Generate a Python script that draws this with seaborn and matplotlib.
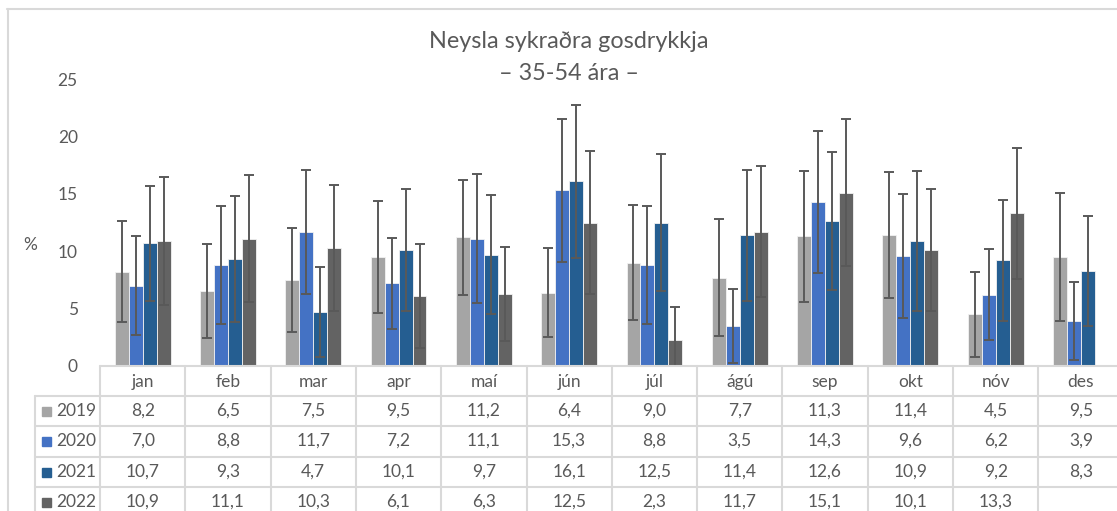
import numpy as np
import pandas as pd
import matplotlib
matplotlib.use("Agg")
import matplotlib.pyplot as plt
import seaborn as sns
from matplotlib.lines import Line2D
from matplotlib.patches import Rectangle
from matplotlib.container import BarContainer

months = ["jan", "feb", "mar", "apr", "maí", "jún", "júl", "ágú", "sep", "okt", "nóv", "des"]
years = ["2019", "2020", "2021", "2022"]
v2019 = [8.2, 6.5, 7.5, 9.5, 11.2, 6.4, 9.0, 7.7, 11.3, 11.4, 4.5, 9.5]
v2020 = [7.0, 8.8, 11.7, 7.2, 11.1, 15.3, 8.8, 3.5, 14.3, 9.6, 6.2, 3.9]
v2021 = [10.7, 9.3, 4.7, 10.1, 9.7, 16.1, 12.5, 11.4, 12.6, 10.9, 9.2, 8.3]
v2022 = [10.9, 11.1, 10.3, 6.1, 6.3, 12.5, 2.3, 11.7, 15.1, 10.1, 13.3, None]
e2019 = [4.4, 4.1, 4.5, 4.9, 5.0, 3.9, 5.0, 5.1, 5.7, 5.5, 3.7, 5.55]
e2020 = [4.3, 5.1, 5.4, 3.95, 5.6, 6.2, 5.1, 3.2, 6.2, 5.4, 3.95, 3.4]
e2021 = [5.0, 5.5, 3.9, 5.3, 5.2, 6.65, 5.95, 5.7, 6.0, 6.1, 5.25, 4.8]
e2022 = [5.6, 5.5, 5.5, 4.5, 4.1, 6.2, 2.8, 5.7, 6.4, 5.3, 5.7, None]
colors = ["#A5A5A5", "#4472C4", "#255E91", "#636363"]
yticks = [0, 5, 10, 15, 20, 25]
title1 = "Neysla sykraðra gosdrykkja"
title2 = "– 35-54 ára –"

values = [v2019, v2020, v2021, v2022]
errs = [e2019, e2020, e2021, e2022]

rows = []
for y, vals in zip(years, values):
    for m, v in zip(months, vals):
        if v is not None:
            rows.append({"month": m, "year": y, "value": v})
df = pd.DataFrame(rows)

sns.set_theme(style="white")
plt.rcParams["font.family"] = ["Lato", "DejaVu Sans"]
TXT = "#595959"
GRID = "#D9D9D9"

W, H = 1117, 511
fig = plt.figure(figsize=(W / 100, H / 100), dpi=100)
fig.patch.set_facecolor("white")

x0, x1 = 100, 1123.6
y0, ytop = 366, 79
ax = fig.add_axes([x0 / W, 1 - y0 / H, (x1 - x0) / W, (y0 - ytop) / H])

sns.barplot(data=df, x="month", y="value", hue="year", order=months, hue_order=years,
            palette=colors, width=0.655, errorbar=None, ax=ax, legend=False,
            edgecolor="#F2F2F2", linewidth=0.6, saturation=1)

bar_conts = [c for c in ax.containers if isinstance(c, BarContainer)]
for i, cont in enumerate(bar_conts):
    xs, hs, es = [], [], []
    for bar in cont:
        if bar is None:
            continue
        xc = bar.get_x() + bar.get_width() / 2
        c = int(round(xc))
        if values[i][c] is None:
            continue
        xs.append(xc)
        hs.append(values[i][c])
        es.append(errs[i][c])
    ax.errorbar(xs, hs, yerr=es, fmt="none", ecolor="#595959", elinewidth=1.4,
                capsize=3.6, capthick=1.4, zorder=5)

ax.set_ylim(0, 25)
ax.set_xlim(-0.5, 11.5)
ax.set_yticks(yticks)
ax.set_yticklabels([str(t) for t in yticks], color=TXT, fontsize=12.5)
ax.tick_params(axis="y", length=0, pad=16)
ax.tick_params(axis="x", length=0, pad=6, labelsize=12.5, labelcolor=TXT)
ax.set_xlabel("")
ax.set_ylabel("")
for s in ax.spines.values():
    s.set_visible(False)

def fx(px):
    return px / W

def fy(py):
    return 1 - py / H

# y-axis unit label
fig.text(fx(30), fy(245), "%", ha="center", va="center", color=TXT, fontsize=12.5)

# titles
fig.text(fx(569), fy(42), title1, ha="center", va="center", color=TXT, fontsize=16.8)
fig.text(fx(569), fy(73), title2, ha="center", va="center", color=TXT, fontsize=16.8)

# outer chart border
fig.add_artist(Line2D([fx(7), fx(1130)], [fy(9.5), fy(9.5)], color=GRID, lw=1.5))
fig.add_artist(Line2D([fx(7.5), fx(7.5)], [fy(9), fy(520)], color=GRID, lw=1.5))

# data table grid
colw = (x1 - x0) / 12
row_lines = [366, 396, 426, 457, 487]
for k, yy in enumerate(row_lines):
    xs_start = x0 if k == 0 else 35
    fig.add_artist(Line2D([fx(xs_start), fx(1130)], [fy(yy), fy(yy)], color=GRID, lw=1.5))
fig.add_artist(Line2D([fx(35), fx(35)], [fy(396), fy(520)], color=GRID, lw=1.5))
for k in range(12):
    xx = x0 + k * colw
    fig.add_artist(Line2D([fx(xx), fx(xx)], [fy(366), fy(520)], color=GRID, lw=1.5))

row_centers = [411, 441, 472, 502]
for i, (y, vals) in enumerate(zip(years, values)):
    yc = row_centers[i]
    fig.add_artist(Rectangle((fx(42), fy(yc + 4.5)), 8.5 / W, 8.5 / H, color=colors[i],
                             transform=fig.transFigure))
    fig.text(fx(56), fy(yc), y, ha="left", va="center", color=TXT, fontsize=12.5)
    for c, v in enumerate(vals):
        if v is None:
            continue
        fig.text(fx(x0 + (c + 0.5) * colw), fy(yc), f"{v:.1f}".replace(".", ","),
                 ha="center", va="center", color=TXT, fontsize=12.5)

fig.savefig("out.png", dpi=100, facecolor="white")
